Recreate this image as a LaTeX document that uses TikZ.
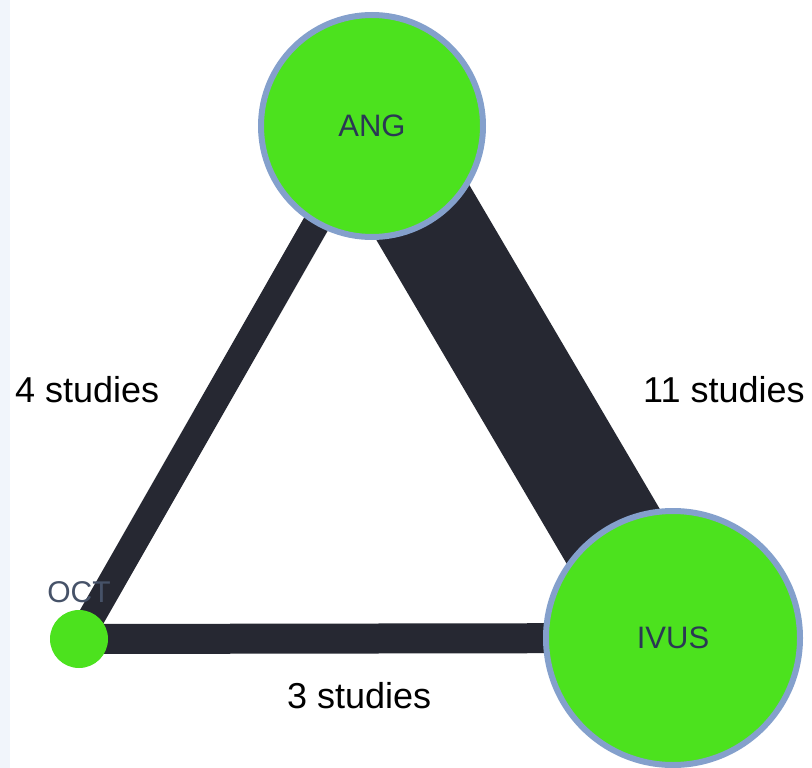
\documentclass[tikz,border=0pt]{standalone}
\usepackage{fontspec}
\setmainfont{Liberation Sans}
\usetikzlibrary{backgrounds}

\definecolor{nodegreen}{RGB}{76,226,30}
\definecolor{nodering}{RGB}{132,160,204}
\definecolor{edgedark}{RGB}{38,40,50}
\definecolor{nodetext}{RGB}{42,56,84}
\definecolor{octtext}{RGB}{70,82,104}
\definecolor{sidestrip}{RGB}{241,245,251}

\tikzset{
  netnode/.style={circle, inner sep=0pt, fill=nodegreen, draw=nodering,
    line width=6pt, text=nodetext, font=\fontsize{31}{34}\selectfont},
  smallnode/.style={circle, inner sep=0pt, fill=nodegreen, draw=none},
  netedge/.style={draw=edgedark, line cap=butt},
  countlabel/.style={anchor=base west, inner sep=0pt, text=black,
    font=\fontsize{36}{40}\selectfont},
}

\begin{document}
\begin{tikzpicture}[x=1pt, y=-1pt]
  \useasboundingbox (0,0) rectangle (812,768);

  % treatment nodes, sized by number of patients
  \node[netnode, minimum size=222pt] (ANG) at (372,126) {ANG};
  \node[netnode, minimum size=254pt] (IVUS) at (673,638) {IVUS};
  \node[smallnode, minimum size=58pt] (OCT) at (79,639) {};
  \node[text=octtext, inner sep=0pt, font=\fontsize{30}{34}\selectfont] (octname) at (79,592) {OCT};

  % page and comparisons, width proportional to number of studies
  \begin{pgfonlayer}{background}
    \fill[white] (0,0) rectangle (812,768);
    \fill[sidestrip] (0,0) rectangle (10,768);
    \draw[netedge, line width=108pt] (ANG.center) -- (IVUS.center);
    \draw[netedge, line width=27pt] (ANG.center) -- (OCT.center);
    \draw[netedge, line width=30pt] (OCT.center) -- (IVUS.center);
  \end{pgfonlayer}

  \node[countlabel] (lab4) at (15,402) {4 studies};
  \node[countlabel] (lab11) at (643,402) {11 studies};
  \node[countlabel] (lab3) at (287,708) {3 studies};
\end{tikzpicture}
\end{document}
